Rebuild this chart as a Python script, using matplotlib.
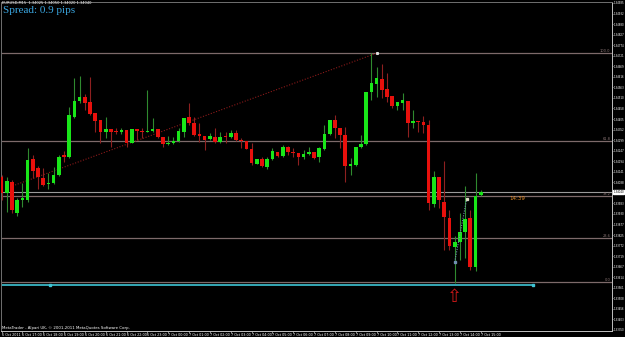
import numpy as np
import matplotlib
matplotlib.use("Agg")
import matplotlib.pyplot as plt

# EURUSD M15 candles, prices in points (1e-5)
opens = [134115, 134035, 134090, 133935, 134000, 134000, 134205, 134160, 134110, 134080,
         134085, 134125, 134225, 134215, 134415, 134495, 134515, 134490, 134435, 134400,
         134340, 134355, 134345, 134340, 134350, 134285, 134355, 134345, 134340, 134345,
         134355, 134315, 134280, 134285, 134295, 134340, 134415, 134385, 134330, 134320,
         134305, 134315, 134290, 134320, 134315, 134335, 134300, 134295, 134255, 134180,
         134205, 134165, 134205, 134240, 134220, 134265, 134240, 134235, 134215, 134230,
         134240, 134215, 134255, 134330, 134400, 134360, 134325, 134170, 134175, 134265,
         134280, 134540, 134580, 134605, 134555, 134520, 134470, 134485, 134495, 134385,
         134395, 134390, 134375, 133980, 134115, 133990, 133910, 133765, 133790, 133840,
         133910, 133665, 134025]
highs = [134125, 134115, 134100, 134010, 134085, 134260, 134225, 134170, 134160, 134135,
         134165, 134225, 134245, 134465, 134610, 134620, 134530, 134615, 134435, 134400,
         134415, 134355, 134360, 134360, 134350, 134355, 134355, 134360, 134550, 134410,
         134355, 134315, 134320, 134315, 134360, 134410, 134485, 134415, 134385, 134320,
         134335, 134360, 134340, 134340, 134350, 134350, 134310, 134295, 134285, 134205,
         134215, 134215, 134260, 134240, 134275, 134270, 134260, 134235, 134250, 134265,
         134240, 134265, 134375, 134400, 134425, 134360, 134365, 134210, 134265, 134325,
         134540, 134735, 134665, 134680, 134635, 134520, 134490, 134535, 134495, 134450,
         134395, 134420, 134400, 134145, 134115, 134195, 133950, 133820, 133935, 134070,
         133950, 134135, 134050]
lows = [134000, 133940, 133935, 133920, 133965, 133990, 134110, 134055, 134070, 134055,
        134080, 134120, 134190, 134210, 134410, 134485, 134450, 134425, 134340, 134285,
        134310, 134265, 134330, 134330, 134265, 134285, 134300, 134310, 134340, 134340,
        134310, 134265, 134275, 134280, 134290, 134315, 134375, 134320, 134290, 134250,
        134300, 134285, 134285, 134285, 134310, 134295, 134260, 134255, 134175, 134180,
        134165, 134155, 134200, 134215, 134215, 134225, 134215, 134175, 134205, 134225,
        134205, 134190, 134250, 134325, 134310, 134260, 134090, 134125, 134170, 134260,
        134275, 134500, 134515, 134510, 134490, 134460, 134450, 134450, 134315, 134360,
        134340, 134335, 133950, 133965, 133960, 133750, 133750, 133585, 133700, 133710,
        133650, 133645, 134020]
closes = [134035, 134095, 133950, 134000, 134010, 134200, 134145, 134115, 134075, 134085,
          134125, 134215, 134215, 134425, 134495, 134515, 134485, 134430, 134395, 134340,
          134355, 134340, 134340, 134350, 134285, 134355, 134345, 134340, 134345, 134355,
          134315, 134280, 134285, 134295, 134345, 134410, 134385, 134325, 134320, 134300,
          134320, 134290, 134315, 134315, 134335, 134300, 134295, 134255, 134185, 134205,
          134170, 134205, 134245, 134220, 134265, 134240, 134235, 134215, 134230, 134240,
          134210, 134260, 134330, 134400, 134360, 134325, 134170, 134180, 134265, 134280,
          134540, 134585, 134610, 134550, 134515, 134470, 134490, 134500, 134385, 134395,
          134390, 134375, 133985, 134115, 134000, 133915, 133770, 133790, 133840, 133905,
          133665, 134020, 134040]

hour_labels = ["6 Oct 2011", "6 Oct 17:00", "6 Oct 18:00", "6 Oct 19:00", "6 Oct 20:00",
               "6 Oct 21:00", "6 Oct 22:00", "6 Oct 23:00", "7 Oct 00:00", "7 Oct 01:00",
               "7 Oct 02:00", "7 Oct 03:00", "7 Oct 04:00", "7 Oct 05:00", "7 Oct 06:00",
               "7 Oct 07:00", "7 Oct 08:00", "7 Oct 09:00", "7 Oct 10:00", "7 Oct 11:00",
               "7 Oct 12:00", "7 Oct 13:00", "7 Oct 14:00", "7 Oct 15:00"]

fib_prices = [134735, 134295, 134020, 133810, 133590]
fib_names = ["100.0", "61.8", "38.2", "23.6", "0.0"]

trend_red = ([2.6, 72.1], [134075, 134735])
trend_blue = ([87.0, 89.3], [133690, 134005])
cyan_line = ([9.3, 102.0], [133575, 133575])
arrow_pos = (87.0, 133515)
timer_pos = (99.0, 134005)
timer_text = "14:39"
spread_text = "Spread: 0.9 pips"

o = np.array(opens) / 1e5
h = np.array(highs) / 1e5
l = np.array(lows) / 1e5
c = np.array(closes) / 1e5
idx = np.arange(len(o))
up = c >= o

W, H = 625, 337
fig = plt.figure(figsize=(W / 100, H / 100), dpi=100, facecolor="black")
ax = fig.add_axes([1 / W, (H - 331) / H, 611 / W, 329 / H], facecolor="black")
ax.set_xlim(-0.1, 117.2)
ax.set_ylim(1.33345, 1.34990)

# fibo + bid lines
for p, name in zip(fib_prices, fib_names):
    ax.axhline(p / 1e5, color="#7d6a6a", lw=0.9, zorder=1)
    ax.text(116.9, p / 1e5 + 0.00002, name, color="#8a7575", fontsize=2.6, ha="right", va="bottom")
ax.axhline(c[-1], color="#9a9a9a", lw=0.8, zorder=1)

ax.plot(trend_red[0], np.array(trend_red[1]) / 1e5, color="#8b1a1a", lw=0.8, ls=(0, (1, 1.5)), zorder=2)
ax.plot(trend_red[0][1], trend_red[1][1] / 1e5, "s", ms=1.2, color="#dddddd", zorder=4)

ax.plot([-1, cyan_line[0][1]], np.array(cyan_line[1]) / 1e5, color="#3fc4d4", lw=1.2, zorder=2)
ax.plot(cyan_line[0], np.array(cyan_line[1]) / 1e5, "s", ms=1.6, color="#3fc4d4", zorder=3)

# candles
wick_col = np.where(up, "#2f8a2f", "#8e2020")
body_col = np.where(up, "#19e619", "#e8100c")
ax.vlines(idx, l, h, colors=wick_col, lw=0.8, zorder=3)
bottoms = np.minimum(o, c)
heights = np.maximum(np.abs(c - o), 0.00003)
ax.bar(idx, heights, bottom=bottoms, width=0.7, color=body_col, linewidth=0, zorder=4)

ax.plot(trend_blue[0], np.array(trend_blue[1]) / 1e5, color="#6f8fb0", lw=0.8, ls=(0, (1, 1.2)), zorder=5)
ax.plot(trend_blue[0][0], trend_blue[1][0] / 1e5, "s", ms=1.6, color="#6f8fb0", zorder=5)
ax.plot(trend_blue[0][1], trend_blue[1][1] / 1e5, "s", ms=1.4, color="#d8d8c0", zorder=5)

ax.text(arrow_pos[0], arrow_pos[1] / 1e5, "\u21e7", color="#d01818", fontsize=13,
        ha="center", va="center", family="DejaVu Sans")
ax.text(timer_pos[0], timer_pos[1] / 1e5, timer_text, color="#e8902a", fontsize=4,
        ha="center", va="center")

# frame
for s in ["top", "left"]:
    ax.spines[s].set_color("#707070")
    ax.spines[s].set_linewidth(0.7)
for s in ["right", "bottom"]:
    ax.spines[s].set_color("#c0c0c0")
    ax.spines[s].set_linewidth(0.7)

ax.yaxis.tick_right()
yt = np.arange(134985, 133340, -52.74) / 1e5
ax.set_yticks(yt)
ax.set_yticklabels([f"{v:.5f}" for v in yt])
ax.tick_params(axis="y", colors="#c0c0c0", labelcolor="white", labelsize=1.9, length=1.0, width=0.5, pad=0.4)

ax.set_xticks(idx[::4])
ax.set_xticklabels(hour_labels, ha="left")
ax.tick_params(axis="x", colors="#c0c0c0", labelcolor="white", labelsize=2.4, length=1.2, width=0.5, pad=0.4)

# bid label box
ax.text(1.0025, c[-1], f"{c[-1]:.5f}", transform=ax.get_yaxis_transform(), fontsize=1.9,
        color="black", va="center", ha="left",
        bbox=dict(boxstyle="square,pad=0.08", fc="white", ec="white"))

fig.text(2 / W, 1 - 3.5 / H, f"EURUSD,M15  {o[-1]:.5f} {h[-1]:.5f} {l[-1]:.5f} {c[-1]:.5f}",
         color="white", fontsize=2.6, va="center", ha="left")
fig.text(3 / W, 1 - 6 / H, spread_text, color="#3aa6e0", fontsize=8, va="top", ha="left",
         family="Liberation Serif")
fig.text(2 / W, 1 - 328 / H, "MetaTrader - Alpari UK, \u00a9 2001-2011 MetaQuotes Software Corp.",
         color="white", fontsize=2.8, va="center", ha="left")

fig.savefig("out.png", dpi=100, facecolor="black")
